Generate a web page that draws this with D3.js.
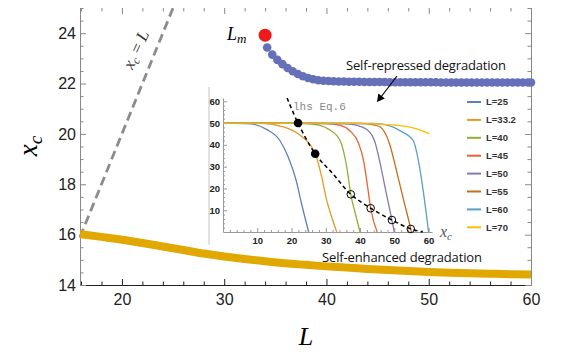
<!DOCTYPE html>
<html>
<head>
<meta charset="utf-8">
<script src="https://cdn.jsdelivr.net/npm/d3@7"></script>
<style>
  body { margin: 0; background: #fff; }
  svg { display: block; }
</style>
</head>
<body>
<div id="chart"></div>
<script>
// ---- main plot data ----
// self-repressed branch (blue dots)
let repL = [34.2, 34.7, 35.2, 35.7, 36.2, 36.7, 37.2, 37.7, 38.2, 38.7, 39.2, 39.7,
  40.2, 40.7, 41.2, 41.7, 42.2, 42.7, 43.2, 43.7, 44.2, 44.7, 45.2, 45.7, 46.2, 46.7,
  47.2, 47.7, 48.2, 48.7, 49.2, 49.7, 50.2, 50.7, 51.2, 51.7, 52.2, 52.7, 53.2, 53.7,
  54.2, 54.7, 55.2, 55.7, 56.2, 56.7, 57.2, 57.7, 58.2, 58.7, 59.2, 59.7, 60.0]
let repXc = [23.43, 23.15, 22.94, 22.77, 22.62, 22.49, 22.38, 22.29, 22.22, 22.17, 22.13, 22.11,
  22.10, 22.09, 22.08, 22.08, 22.07, 22.07, 22.07, 22.06, 22.06, 22.06, 22.06, 22.06, 22.05, 22.05,
  22.05, 22.05, 22.05, 22.05, 22.05, 22.05, 22.05, 22.05, 22.04, 22.04, 22.04, 22.04, 22.04, 22.04,
  22.04, 22.04, 22.04, 22.04, 22.04, 22.04, 22.04, 22.04, 22.04, 22.04, 22.04, 22.04, 22.04]

// L_m point
let LmL = 34.0
let LmXc = 23.92

// self-enhanced branch (yellow band)
let enhL = [15.9, 18, 20, 22, 24, 26, 28, 30, 32, 34, 36, 38, 40, 42, 44, 46, 48, 50, 52, 54, 56, 58, 60]
let enhXc = [16.02, 15.91, 15.8, 15.67, 15.53, 15.39, 15.25, 15.13, 15.03, 14.94, 14.86, 14.8,
  14.74, 14.69, 14.64, 14.6, 14.56, 14.52, 14.49, 14.47, 14.45, 14.43, 14.42]

// x_c = L guide
let diagL = [15.9, 25]

let xTicks = [20, 30, 40, 50, 60]
let yTicks = [14, 16, 18, 20, 22, 24]

// ---- inset data ----
let insetNames = ["L=25", "L=33.2", "L=40", "L=45", "L=50", "L=55", "L=60", "L=70"]
let insetCurves = [
  [[0, 50], [8, 49.6], [12.8, 47], [16.6, 42], [19, 34.5], [21.3, 24], [23, 12.5], [25, 0]],
  [[0, 50], [12, 49.8], [17, 48.5], [22.4, 44.5], [26.9, 36], [28.7, 26], [30.2, 15], [31.7, 7], [33.2, 0]],
  [[0, 50], [24, 49.8], [28, 49], [31, 47], [34.1, 42.2], [36.1, 30], [37.3, 17.3], [38.6, 8.6], [40, 0]],
  [[0, 50], [30, 49.8], [34, 49], [37, 46.5], [39.5, 41], [41, 33], [42.1, 22], [43.1, 10.9], [45, 0]],
  [[0, 50], [35, 49.8], [39, 49], [42, 47], [44.3, 41.5], [45.8, 32], [47.5, 19], [49.3, 5.5], [50, 0]],
  [[0, 50], [40, 49.8], [43.5, 49.3], [45.8, 48.3], [48.5, 41], [50.6, 28.4], [52.5, 16], [54.8, 1.4], [55, 0]],
  [[0, 50], [44, 49.8], [48, 49], [51.6, 46.5], [55.5, 42], [57, 33], [58.4, 19.3], [60, 0]],
  [[0, 50], [30, 50], [40, 49.9], [45, 49.6], [50, 49.1], [55, 48], [58, 46.5], [60.2, 45]]
]
let eqCurve = [[18.7, 61.5], [21.9, 50], [26.9, 35.9], [32.2, 26.5], [37.3, 17.3], [43.1, 10.9],
  [49.3, 5.5], [54.8, 1.4], [58.3, 0]]
let stablePts = [[21.9, 50], [26.9, 35.9]]
let unstablePts = [[37.3, 17.3], [43.1, 10.9], [49.3, 5.5], [54.8, 1.4]]
let insetTicks = [10, 20, 30, 40, 50, 60]

let palette = ["#5E81B5", "#E19C24", "#8FB032", "#EB6235", "#8778B3", "#C56E1A", "#5D9EC7", "#FFBF00"]

// ---- svg ----
let svg = d3.select("#chart").append("svg")
    .attr("width", 581)
    .attr("height", 363)
    .style("font-family", "'Liberation Sans', Arial, sans-serif")

let x = d3.scaleLinear().domain([15.9, 60]).range([80, 531])
let y = d3.scaleLinear().domain([14, 25]).range([285, 8])

let xMinor = d3.range(16, 61, 2).filter(v => v % 10 != 0)
let yMinor = d3.range(14, 25.01, 0.5).filter(v => v % 2 != 0)

function styleAxis(g, col) {
  g.selectAll("line").attr("stroke", col)
  g.selectAll("path.domain").attr("stroke", col)
}

// bottom
let gb = svg.append("g").attr("transform", "translate(0,285)")
  .call(d3.axisBottom(x).tickValues(xTicks).tickSize(-6).tickSizeOuter(0).tickPadding(9).tickFormat(d3.format("d")))
styleAxis(gb, "#222")
gb.selectAll("text").attr("font-size", 16).attr("fill", "#222")
svg.append("g").attr("transform", "translate(0,285)")
  .call(d3.axisBottom(x).tickValues(xMinor).tickSize(-3.5).tickFormat(""))
  .call(g => g.select(".domain").remove())
  .call(g => styleAxis(g, "#222"))

// left
let gl = svg.append("g").attr("transform", "translate(80,0)")
  .call(d3.axisLeft(y).tickValues(yTicks).tickSize(-6).tickSizeOuter(0).tickPadding(4).tickFormat(d3.format("d")))
styleAxis(gl, "#888")
gl.selectAll("text").attr("font-size", 16).attr("fill", "#222")
svg.append("g").attr("transform", "translate(80,0)")
  .call(d3.axisLeft(y).tickValues(yMinor).tickSize(-3.5).tickFormat(""))
  .call(g => g.select(".domain").remove())
  .call(g => styleAxis(g, "#888"))

// top (ticks only)
svg.append("g").attr("transform", "translate(0,8)")
  .call(d3.axisTop(x).tickValues(xTicks).tickSize(-6).tickFormat(""))
  .call(g => g.select(".domain").remove())
  .call(g => styleAxis(g, "#888"))
svg.append("g").attr("transform", "translate(0,8)")
  .call(d3.axisTop(x).tickValues(xMinor).tickSize(-3.5).tickFormat(""))
  .call(g => g.select(".domain").remove())
  .call(g => styleAxis(g, "#888"))

// right
svg.append("g").attr("transform", "translate(531,0)")
  .call(d3.axisRight(y).tickValues(yTicks).tickSize(-6).tickSizeOuter(0).tickFormat(""))
  .call(g => styleAxis(g, "#888"))
svg.append("g").attr("transform", "translate(531,0)")
  .call(d3.axisRight(y).tickValues(yMinor).tickSize(-3.5).tickFormat(""))
  .call(g => g.select(".domain").remove())
  .call(g => styleAxis(g, "#888"))

// axis titles
svg.append("text")
    .attr("transform", "translate(37,146) rotate(-90)")
    .attr("text-anchor", "middle")
    .style("font-family", "'Liberation Serif', 'Times New Roman', serif")
    .style("font-style", "italic")
    .attr("font-size", 27)
    .text("x")
  .append("tspan").attr("font-size", 19).attr("dy", 5).text("c")

svg.append("text")
    .attr("x", 306).attr("y", 345)
    .attr("text-anchor", "middle")
    .style("font-family", "'Liberation Serif', 'Times New Roman', serif")
    .style("font-style", "italic")
    .attr("font-size", 26)
    .text("L")

// x_c = L dashed guide
let line = d3.line().x(d => x(d[0])).y(d => y(d[1]))
svg.append("path")
    .datum(diagL.map(v => [v, v]))
    .attr("d", line)
    .attr("fill", "none")
    .attr("stroke", "#8c8c8c")
    .attr("stroke-width", 2.8)
    .attr("stroke-dasharray", "9,5")

let diagLab = svg.append("text")
    .attr("transform", "translate(141,52) rotate(-65)")
    .attr("text-anchor", "middle")
    .style("font-family", "'Liberation Serif', 'Times New Roman', serif")
    .style("font-style", "italic")
    .attr("font-size", 17)
    .attr("fill", "#333")
diagLab.append("tspan").text("x")
diagLab.append("tspan").attr("font-size", 12).attr("dy", 3).text("c")
diagLab.append("tspan").attr("dy", -3).attr("font-style", "normal").text(" = ")
diagLab.append("tspan").text("L")

// self-enhanced band
let enh = enhL.map((v, i) => [v, enhXc[i]])
svg.append("path")
    .datum(enh)
    .attr("d", line.curve(d3.curveMonotoneX))
    .attr("fill", "none")
    .attr("stroke", "#e0a800")
    .attr("stroke-width", 8)

// self-repressed dots
svg.append("g").selectAll("circle")
    .data(repL.map((v, i) => [v, repXc[i]]))
    .join("circle")
    .attr("cx", d => x(d[0]))
    .attr("cy", d => y(d[1]))
    .attr("r", 4.3)
    .attr("fill", "#6670b8")

svg.append("circle")
    .attr("cx", x(LmL)).attr("cy", y(LmXc))
    .attr("r", 6.5)
    .attr("fill", "#ee1a1a")

let lmLab = svg.append("text")
    .attr("x", 227).attr("y", 40)
    .style("font-family", "'Liberation Serif', 'Times New Roman', serif")
    .style("font-style", "italic")
    .attr("font-size", 18)
    .text("L")
lmLab.append("tspan").attr("font-size", 13).attr("dy", 3).text("m")

// annotations
svg.append("text")
    .attr("x", 346).attr("y", 70)
    .attr("font-size", 13)
    .attr("textLength", 160)
    .style("font-family", "'Open Sans', 'Noto Sans', sans-serif")
    .attr("fill", "#111")
    .text("Self-repressed degradation")
svg.append("text")
    .attr("x", 322).attr("y", 262)
    .attr("font-size", 13)
    .attr("textLength", 160)
    .style("font-family", "'Open Sans', 'Noto Sans', sans-serif")
    .attr("fill", "#111")
    .text("Self-enhanced degradation")

svg.append("line")
    .attr("x1", 397).attr("y1", 76).attr("x2", 381).attr("y2", 97)
    .attr("stroke", "#000").attr("stroke-width", 1.2)
svg.append("path")
    .attr("d", "M377,102 L378.3,93.5 L384.8,98.4 Z")
    .attr("fill", "#000")

// ---- inset ----
let ix = d3.scaleLinear().domain([0, 61]).range([223, 432])
let iy = d3.scaleLinear().domain([0, 61.5]).range([232, 98])
let inset = svg.append("g")

inset.append("line")
    .attr("x1", 209).attr("x2", 209).attr("y1", 87).attr("y2", 245)
    .attr("stroke", "#c4c4c4").attr("stroke-width", 1)

let iMinor = d3.range(2, 61, 2).filter(v => v % 10 != 0)

let ib = inset.append("g").attr("transform", "translate(0,232)")
  .call(d3.axisBottom(ix).tickValues(insetTicks).tickSize(-4).tickSizeOuter(0).tickPadding(5))
styleAxis(ib, "#999")
ib.selectAll("text").attr("font-size", 9.5).attr("font-weight", "bold").attr("fill", "#222")
inset.append("g").attr("transform", "translate(0,232)")
  .call(d3.axisBottom(ix).tickValues(iMinor).tickSize(-2).tickFormat(""))
  .call(g => g.select(".domain").remove())
  .call(g => styleAxis(g, "#999"))

let il = inset.append("g").attr("transform", "translate(223,0)")
  .call(d3.axisLeft(iy).tickValues(insetTicks).tickSize(-4).tickSizeOuter(0).tickPadding(3))
styleAxis(il, "#999")
il.selectAll("text").attr("font-size", 9.5).attr("font-weight", "bold").attr("fill", "#222")
inset.append("g").attr("transform", "translate(223,0)")
  .call(d3.axisLeft(iy).tickValues(iMinor).tickSize(-2).tickFormat(""))
  .call(g => g.select(".domain").remove())
  .call(g => styleAxis(g, "#999"))

let iline = d3.line().x(d => ix(d[0])).y(d => iy(d[1])).curve(d3.curveMonotoneX)

inset.append("g").selectAll("path")
    .data(insetCurves)
    .join("path")
    .attr("d", iline)
    .attr("fill", "none")
    .attr("stroke", (d, i) => palette[i])
    .attr("stroke-width", 1.3)

inset.append("path")
    .datum(eqCurve)
    .attr("d", d3.line().x(d => ix(d[0])).y(d => iy(d[1])).curve(d3.curveCatmullRom))
    .attr("fill", "none")
    .attr("stroke", "#000")
    .attr("stroke-width", 1.5)
    .attr("stroke-dasharray", "4,3")

inset.append("g").selectAll("circle")
    .data(stablePts)
    .join("circle")
    .attr("cx", d => ix(d[0])).attr("cy", d => iy(d[1]))
    .attr("r", 4.3).attr("fill", "#000")
inset.append("g").selectAll("circle")
    .data(unstablePts)
    .join("circle")
    .attr("cx", d => ix(d[0])).attr("cy", d => iy(d[1]))
    .attr("r", 3.8).attr("fill", "none")
    .attr("stroke", "#000").attr("stroke-width", 1)

inset.append("text")
    .attr("x", 293).attr("y", 110)
    .attr("font-size", 11)
    .style("font-family", "'Liberation Mono', 'Courier New', monospace")
    .attr("fill", "#888")
    .text("lhs Eq.6")

let ixLab = inset.append("text")
    .attr("x", 440).attr("y", 237)
    .style("font-family", "'Liberation Serif', 'Times New Roman', serif")
    .style("font-style", "italic")
    .attr("font-size", 16)
    .attr("fill", "#555")
    .text("x")
ixLab.append("tspan").attr("font-size", 11).attr("dy", 3).text("c")

// legend
let leg = inset.append("g").selectAll("g")
    .data(insetNames)
    .join("g")
    .attr("transform", (d, i) => "translate(467," + (102 + i * 17.9) + ")")
leg.append("line")
    .attr("x1", 0).attr("x2", 14)
    .attr("stroke", (d, i) => palette[i])
    .attr("stroke-width", 2)
leg.append("text")
    .attr("x", 19).attr("dy", "0.35em")
    .attr("font-size", 9.5)
    .attr("font-weight", "bold")
    .attr("fill", "#333")
    .text(d => d)
</script>
</body>
</html>
